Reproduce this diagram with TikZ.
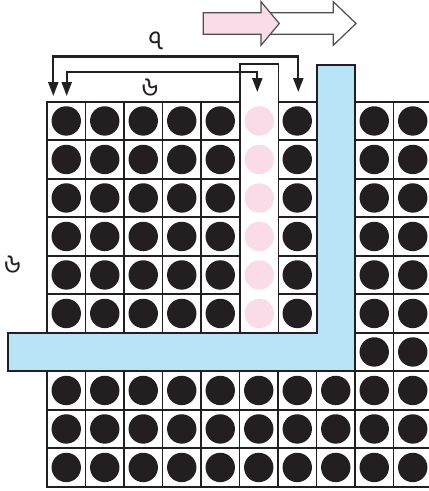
\documentclass[tikz,border=0pt]{standalone}
\usepackage{fontspec}
\newfontfamily\bn[Script=Bengali]{Hind Siliguri}
\usetikzlibrary{arrows.meta}
\definecolor{ink}{HTML}{231F20}
\definecolor{skyb}{HTML}{B9E4F8}
\definecolor{pinkf}{HTML}{FADCE8}
\definecolor{edge}{HTML}{4D4D4D}
\begin{document}
\begin{tikzpicture}[x=1pt,y=-1pt,
  cellbox/.style={draw=ink,line width=1.8pt,fill=white},
  dot/.style={circle,fill=ink,inner sep=0pt,minimum size=29.4pt},
  pdot/.style={circle,fill=pinkf,inner sep=0pt,minimum size=29.4pt},
  conn/.style={draw=ink,line width=2.3pt,{Triangle[width=10pt,length=14pt]}-{Triangle[width=10pt,length=14pt]}},
  blk/.style={draw=edge,line width=1.2pt,line join=miter},
  lab/.style={font=\bn\fontsize{27}{27}\selectfont,text=ink,inner sep=0pt}]
\useasboundingbox (0,0) rectangle (429,491);
\clip (0,0) rectangle (429,491);
% grid of cells with counters
\foreach \c in {1,...,10}{
  \foreach \r in {1,...,10}{
    \pgfmathtruncatemacro\sk{((\c==6) && (\r<7)) || ((\c==8) && (\r<8)) || ((\r==7) && (\c<9))}
    \ifnum\sk=0
      \pgfmathsetmacro\xo{47+38.5*(\c-1)}
      \pgfmathsetmacro\yo{101.7+38.5*(\r-1)}
      \draw[cellbox] (\xo,\yo) rectangle ++(38.5,38.5);
      \node[dot] (d-\c-\r) at (\xo+19.25,\yo+19.25) {};
    \fi
  }
}
% lifted pink column
\draw[cellbox] (240,64) rectangle (278.5,332.7);
\foreach \r in {1,...,6}{
  \node[pdot] (p-\r) at (259.25,{101.7+19.25+38.5*(\r-1)}) {};
}
% blue L strip
\draw[draw=ink,line width=1.8pt,fill=skyb,line join=miter]
  (8.3,332.7) -- (316.7,332.7) -- (316.7,65) -- (355,65) -- (355,371) -- (8.3,371) -- cycle;
% block arrows
\draw[blk,fill=white] (262,12.7) -- (333.3,12.7) -- (333.3,1.7) -- (356,23.5) -- (333.3,45.3) -- (333.3,34.3) -- (262,34.3) -- cycle;
\draw[blk,fill=pinkf] (203.3,12.7) -- (261,12.7) -- (261,1.7) -- (279.3,23.5) -- (261,45.3) -- (261,34.3) -- (203.3,34.3) -- cycle;
% connectors
\coordinate (os) at (298.3,92);
\coordinate (oe) at (53.3,96);
\coordinate (ot) at (0,56.5);
\coordinate (is) at (257.3,92);
\coordinate (ie) at (66.7,96);
\coordinate (it) at (0,72.3);
\draw[conn] (os) -- (os |- ot) -| (oe);
\draw[conn] (is) -- (is |- it) -| (ie);
% labels
\node[lab] (l7) at (156,41) {৭};
\node[lab] (l6a) at (150,88) {৬};
\node[lab] (l6b) at (12.5,265) {৬};
\end{tikzpicture}
\end{document}
